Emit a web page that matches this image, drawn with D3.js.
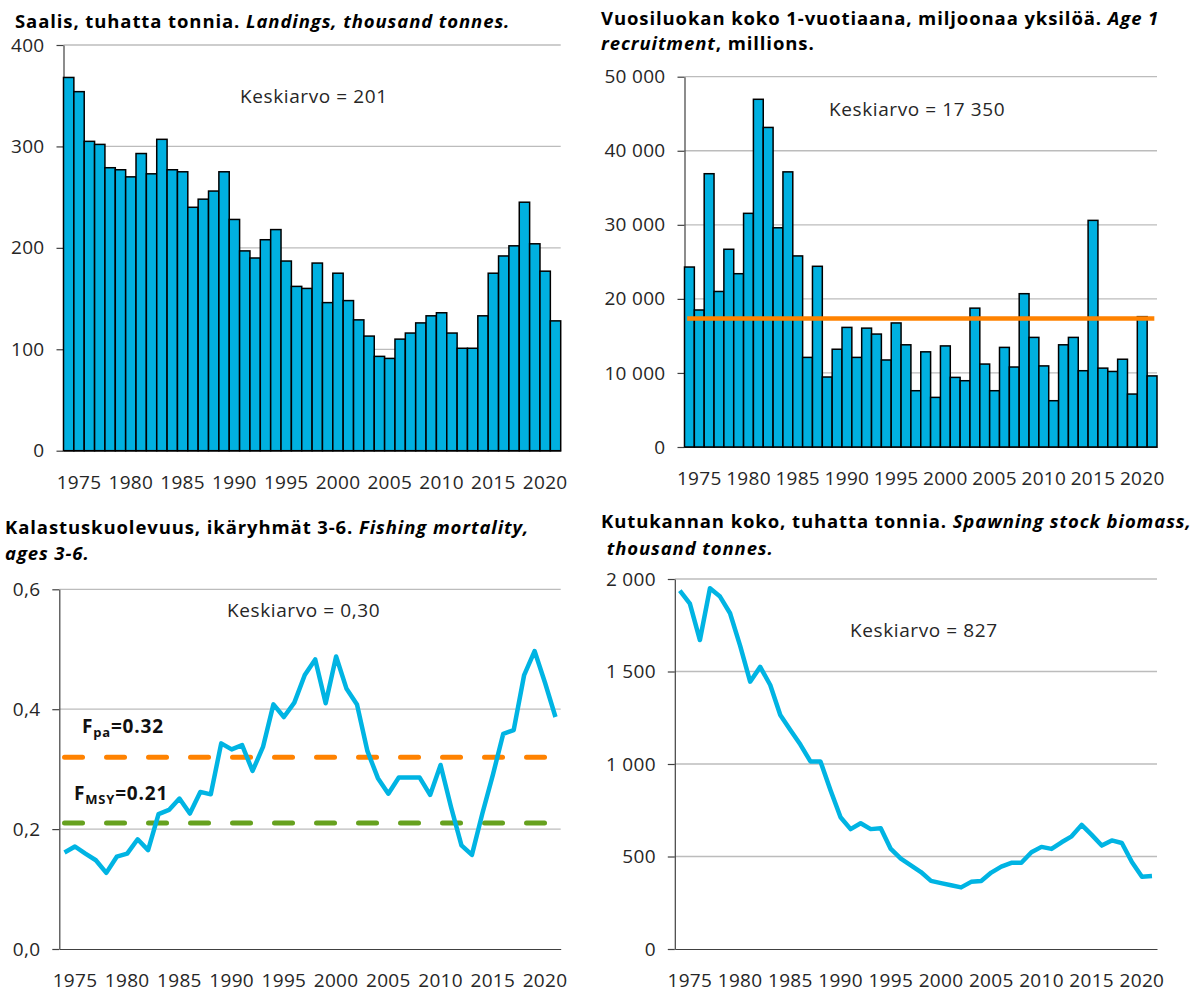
<!DOCTYPE html>
<html>
<head>
<meta charset="utf-8">
<script src="https://cdn.jsdelivr.net/npm/d3@7"></script>
<style>
  body { margin: 0; background: #fff; }
  svg text { font-family: "Open Sans", "Noto Sans", sans-serif; }
  .title { font-size: 18.5px; font-weight: bold; fill: #000; letter-spacing: 0.9px; }
  .axis text { font-size: 19px; fill: #262626; letter-spacing: 0.3px; }
  .note { font-size: 19px; fill: #262626; letter-spacing: 0.6px; }
  .ref-label { font-size: 19px; font-weight: bold; fill: #111; letter-spacing: 0.8px; }
</style>
</head>
<body>
<svg id="chart" width="1200" height="992"></svg>
<script>
// ========================== DATA =====================================

// Years 1974-2021, one bar / point per year
const years = d3.range(1974, 2022);
const yearTicks = [1975, 1980, 1985, 1990, 1995, 2000, 2005, 2010, 2015, 2020];

// Landings, thousand tonnes
const landings = [
  368, 354, 305, 302, 279, 277, 270, 293, 273, 307,
  277, 275, 240, 248, 256, 275, 228, 197, 190, 208,
  218, 187, 162, 160, 185, 146, 175, 148, 129, 113,
  93, 91, 110, 116, 126, 133, 136, 116, 101, 101,
  133, 175, 192, 202, 245, 204, 177, 128
];
const landingsTicks = [0, 100, 200, 300, 400];
const landingsMean = 201;

// Age 1 recruitment, millions
const recruitment = [
  24300, 18500, 36900, 21000, 26700, 23400, 31550, 46950, 43150, 29600,
  37150, 25800, 12100, 24400, 9450, 13200, 16150, 12100, 16050, 15250,
  11750, 16750, 13800, 7600, 12850, 6700, 13650, 9400, 8950, 18750,
  11200, 7600, 13450, 10800, 20700, 14800, 10950, 6250, 13800, 14800,
  10300, 30600, 10650, 10200, 11850, 7150, 17600, 9600
];
const recruitmentTicks = [0, 10000, 20000, 30000, 40000, 50000];
const recruitmentMean = 17350;

// Fishing mortality, ages 3-6
const mortality = [
  0.161, 0.171, 0.159, 0.148, 0.127, 0.154, 0.159, 0.183, 0.165, 0.225,
  0.232, 0.251, 0.226, 0.262, 0.258, 0.343, 0.333, 0.340, 0.297, 0.337,
  0.408, 0.387, 0.411, 0.457, 0.483, 0.410, 0.488, 0.434, 0.408, 0.330,
  0.285, 0.259, 0.286, 0.286, 0.286, 0.257, 0.307, 0.237, 0.173, 0.157,
  0.226, 0.290, 0.359, 0.365, 0.457, 0.497, 0.444, 0.387
];
const mortalityTicks = [0, 0.2, 0.4, 0.6];
const mortalityMean = 0.30;
const fPa = 0.32;
const fMsy = 0.21;

// Spawning stock biomass, thousand tonnes
const ssb = [
  1937, 1867, 1670, 1950, 1905, 1815, 1640, 1445, 1525, 1427,
  1265, 1184, 1105, 1014, 1014, 858, 712, 648, 680, 648,
  653, 541, 488, 452, 416, 368, 356, 345, 333, 363,
  368, 413, 445, 466, 466, 523, 552, 541, 577, 609,
  671, 617, 559, 587, 573, 470, 391, 395
];
const ssbTicks = [0, 500, 1000, 1500, 2000];
const ssbMean = 827;

// ========================== STYLE / LAYOUT ===========================

const BAR_FILL = "#00b0e0";
const LINE_BLUE = "#00b4e3";
const ORANGE = "#ff8200";
const GREEN = "#66a11f";
const GRID = "#bcbcbc";
const AXIS = "#404040";

// plot rectangles (pixels)
const panels = {
  landings:    { left: 63.5,  right: 560.7, top: 45,    bottom: 450.7 },
  recruitment: { left: 684.5, right: 1157,  top: 76.7,  bottom: 447 },
  mortality:   { left: 59.3,  right: 560.7, top: 589.3, bottom: 949 },
  ssb:         { left: 674.8, right: 1157,  top: 579,   bottom: 949 }
};

// Finnish number style: decimal comma, space as thousands separator
const fi = d3.formatLocale({ decimal: ",", thousands: "\u00a0", grouping: [3], currency: ["", " €"] });
const fmtInt = fi.format(",d");
const fmtDec1 = fi.format(".1f");
const fmtDec2 = fi.format(".2f");

const svg = d3.select("#chart");

// ========================== HELPERS ==================================

function makeX(p) {
  return d3.scaleBand().domain(years).range([p.left, p.right]).padding(0);
}

function makeY(p, max) {
  return d3.scaleLinear().domain([0, max]).range([p.bottom, p.top]);
}

// gridlines, axes and tick labels for one panel
function drawFrame(p, x, y, ticks, fmt) {
  const g = svg.append("g");

  g.selectAll("line.grid")
    .data(ticks.filter(t => t > 0))
    .join("line")
    .attr("class", "grid")
    .attr("x1", p.left).attr("x2", p.right)
    .attr("y1", d => y(d)).attr("y2", d => y(d))
    .attr("stroke", GRID)
    .attr("stroke-width", 1.3);

  const yAxis = g.append("g")
    .attr("class", "axis")
    .attr("transform", `translate(${p.left},0)`)
    .call(d3.axisLeft(y).tickValues(ticks).tickFormat(fmt)
      .tickSize(7).tickSizeOuter(0).tickPadding(12));

  const xAxis = g.append("g")
    .attr("class", "axis")
    .attr("transform", `translate(0,${p.bottom})`)
    .call(d3.axisBottom(x).tickValues(yearTicks)
      .tickSize(0).tickSizeOuter(0).tickPadding(24.5));

  [yAxis, xAxis].forEach(a => {
    a.select(".domain").attr("stroke", AXIS).attr("stroke-width", 1.2);
    a.selectAll(".tick line").attr("stroke", AXIS).attr("stroke-width", 1.2);
    a.selectAll("text").attr("font-family", null).attr("font-size", null);
  });
  return g;
}

// title with mixed plain / italic runs, one array per line
function drawTitle(x, lines) {
  const t = svg.append("text").attr("class", "title");
  lines.forEach(line => {
    line.runs.forEach((run, i) => {
      const ts = t.append("tspan")
        .attr("font-style", run.italic ? "italic" : "normal")
        .text(run.text);
      if (i === 0) ts.attr("x", x).attr("y", line.y);
    });
  });
}

function drawNote(x, yPos, text) {
  svg.append("text")
    .attr("class", "note")
    .attr("x", x).attr("y", yPos)
    .text(text);
}

function drawBars(x, y, values) {
  svg.append("g")
    .selectAll("rect")
    .data(values.map((v, i) => ({ year: years[i], value: v })))
    .join("rect")
    .attr("x", d => x(d.year))
    .attr("width", x.bandwidth())
    .attr("y", d => y(d.value))
    .attr("height", d => y(0) - y(d.value))
    .attr("fill", BAR_FILL)
    .attr("stroke", "#000")
    .attr("stroke-width", 1.5);
}

function drawSeriesLine(x, y, values) {
  const line = d3.line()
    .x(d => x(d.year) + x.bandwidth() / 2)
    .y(d => y(d.value));
  svg.append("path")
    .datum(values.map((v, i) => ({ year: years[i], value: v })))
    .attr("fill", "none")
    .attr("stroke", LINE_BLUE)
    .attr("stroke-width", 4.5)
    .attr("stroke-linejoin", "round")
    .attr("d", line);
}

function hLine(x, y, value, color, dashed) {
  const x1 = x(years[0]) + x.bandwidth() / 2;
  const x2 = x(years[years.length - 1]) + x.bandwidth() / 2;
  const l = svg.append("line")
    .attr("x1", x1).attr("x2", x2)
    .attr("y1", y(value)).attr("y2", y(value))
    .attr("stroke", color);
  if (dashed) {
    l.attr("stroke-width", 5)
      .attr("stroke-linecap", "round")
      .attr("stroke-dasharray", "18,24");
  } else {
    l.attr("stroke-width", 4.5).attr("stroke-linecap", "square");
  }
}

// ========================== PANEL 1: LANDINGS ========================

{
  const p = panels.landings;
  const x = makeX(p), y = makeY(p, 400);
  drawFrame(p, x, y, landingsTicks, fmtInt);
  drawBars(x, y, landings);
  drawTitle(15, [{ y: 28, runs: [
    { text: "Saalis, tuhatta tonnia. " },
    { text: "Landings, thousand tonnes.", italic: true }
  ] }]);
  drawNote(240, 103, `Keskiarvo = ${fmtInt(landingsMean)}`);
}

// ========================== PANEL 2: RECRUITMENT =====================

{
  const p = panels.recruitment;
  const x = makeX(p), y = makeY(p, 50000);
  drawFrame(p, x, y, recruitmentTicks, fmtInt);
  drawBars(x, y, recruitment);
  hLine(x, y, recruitmentMean, ORANGE, false);
  drawTitle(601, [
    { y: 25, runs: [
      { text: "Vuosiluokan koko 1-vuotiaana, miljoonaa yksilöä. " },
      { text: "Age 1", italic: true }
    ] },
    { y: 50, runs: [
      { text: "recruitment", italic: true },
      { text: ", millions." }
    ] }
  ]);
  drawNote(829, 116, `Keskiarvo = ${fmtInt(recruitmentMean)}`);
}

// ========================== PANEL 3: FISHING MORTALITY ===============

{
  const p = panels.mortality;
  const x = makeX(p), y = makeY(p, 0.6);
  drawFrame(p, x, y, mortalityTicks, fmtDec1);
  hLine(x, y, fPa, ORANGE, true);
  hLine(x, y, fMsy, GREEN, true);
  drawSeriesLine(x, y, mortality);
  drawTitle(5, [
    { y: 534, runs: [
      { text: "Kalastuskuolevuus, ikäryhmät 3-6. " },
      { text: "Fishing mortality,", italic: true }
    ] },
    { y: 560, runs: [{ text: "ages 3-6.", italic: true }] }
  ]);
  drawNote(227, 617, `Keskiarvo = ${fmtDec2(mortalityMean)}`);

  // reference point labels
  const refLabel = (xPos, yPos, sub, value) => {
    const t = svg.append("text").attr("class", "ref-label")
      .attr("x", xPos).attr("y", yPos);
    t.append("tspan").text("F");
    t.append("tspan").attr("font-size", "13px").attr("dy", 4).text(sub);
    t.append("tspan").attr("dy", -4).text("=" + value.toFixed(2));
  };
  refLabel(82, 733, "pa", fPa);
  refLabel(74, 800, "MSY", fMsy);
}

// ========================== PANEL 4: SPAWNING STOCK BIOMASS ==========

{
  const p = panels.ssb;
  const x = makeX(p), y = makeY(p, 2000);
  drawFrame(p, x, y, ssbTicks, fmtInt);
  drawSeriesLine(x, y, ssb);
  drawTitle(601, [
    { y: 528, runs: [
      { text: "Kutukannan koko, tuhatta tonnia. " },
      { text: "Spawning stock biomass,", italic: true }
    ] },
    { y: 555, runs: [{ text: " thousand tonnes.", italic: true }] }
  ]);
  drawNote(850, 637, `Keskiarvo = ${fmtInt(ssbMean)}`);
}
</script>
</body>
</html>
